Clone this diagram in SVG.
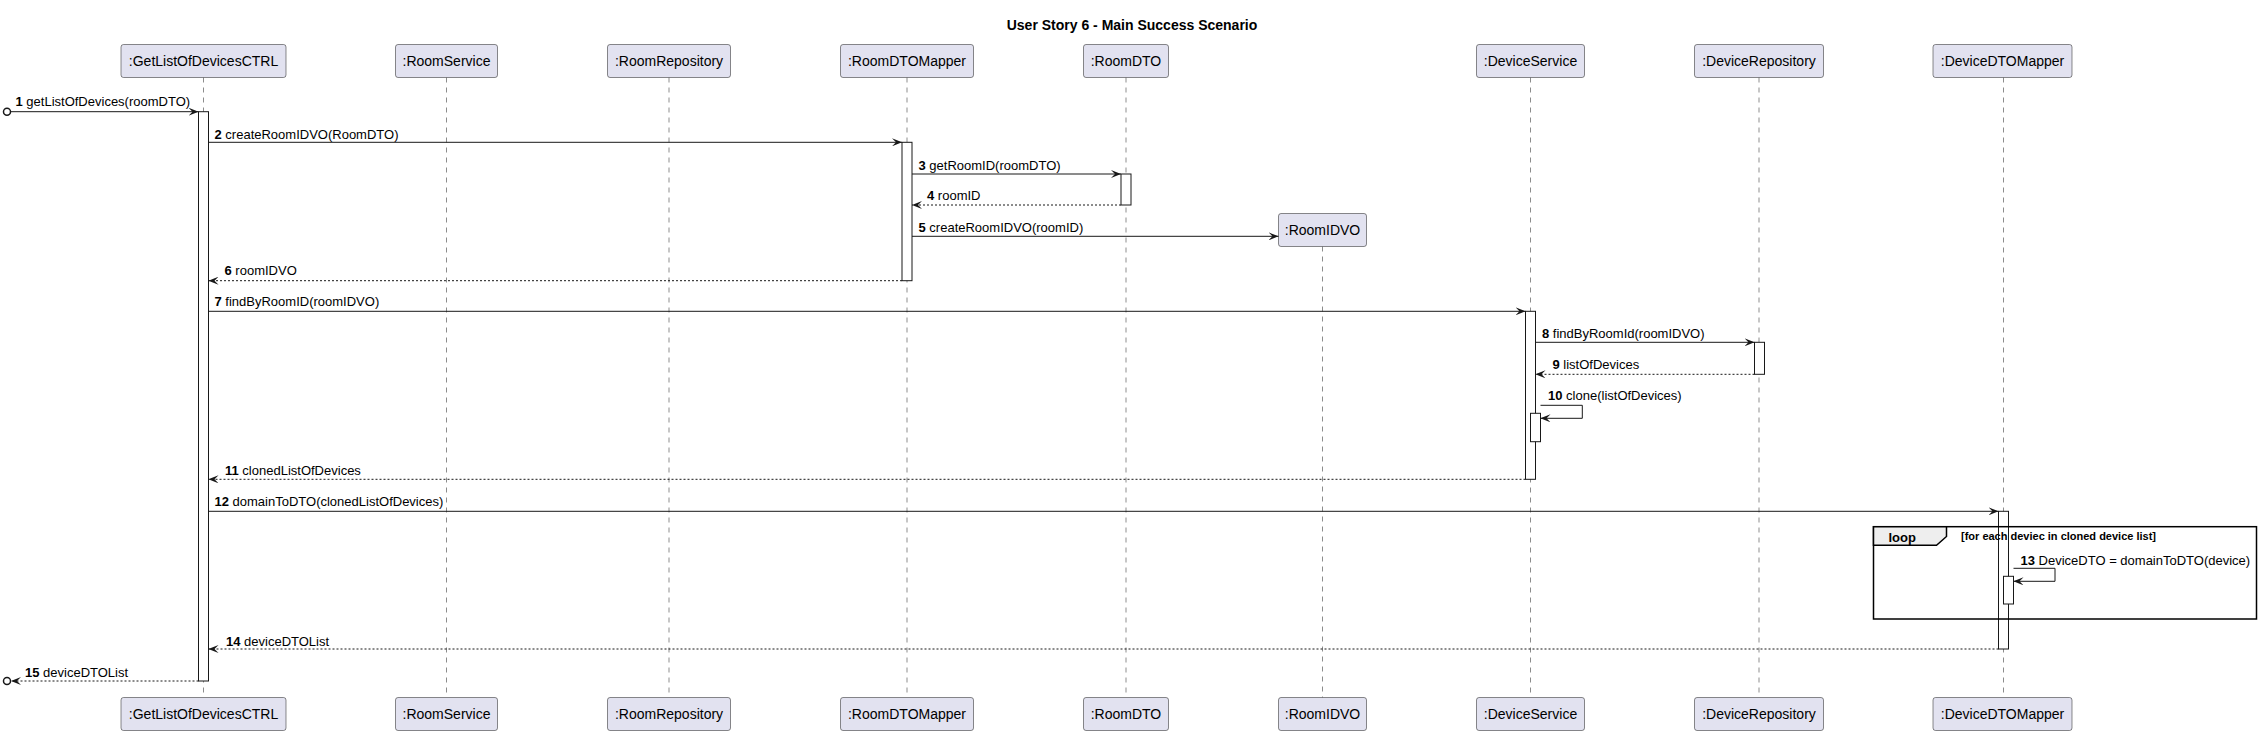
<svg xmlns="http://www.w3.org/2000/svg" width="2261" height="735" viewBox="0 0 2261 735">
<style>
  text { font-family: "Liberation Sans", Arial, sans-serif; fill: #000000; }
  .title { font-size: 14px; font-weight: bold; text-anchor: middle; }
  .pbox { fill: #E2E2F0; stroke: #181818; stroke-width: 0.5; }
  .pname { font-size: 14px; text-anchor: middle; }
  .life { stroke: #181818; stroke-width: 0.5; stroke-dasharray: 5,5; fill: none; }
  .act { fill: #FFFFFF; stroke: #181818; stroke-width: 1; }
  .msg { stroke: #181818; stroke-width: 1; fill: none; marker-end: url(#arrow); }
  .ret { stroke: #181818; stroke-width: 1; fill: none; stroke-dasharray: 2,2; marker-end: url(#arrow); }
  .lbl { font-size: 13px; }
  .num { font-weight: bold; }
  .circ { fill: none; stroke: #181818; stroke-width: 1.5; }
  .frame { fill: none; stroke: #000000; stroke-width: 1.5; }
  .tab { fill: #EEEEEE; stroke: #000000; stroke-width: 1.5; }
  .loopk { font-size: 13px; font-weight: bold; }
  .cond { font-size: 11px; font-weight: bold; }
</style>
<defs>
  <marker id="arrow" viewBox="0 0 10 8" refX="10" refY="4" markerWidth="10" markerHeight="8" markerUnits="userSpaceOnUse" orient="auto">
    <path d="M0,0 L10,4 L0,8 L4,4 Z" fill="#181818"/>
  </marker>
</defs>
<rect x="0" y="0" width="2261" height="735" fill="#FFFFFF"/>
<text class="title" x="1132" y="30">User Story 6 - Main Success Scenario</text>

<!-- lifelines -->
<g id="lifelines">
  <line class="life" x1="203.5" y1="77.5" x2="203.5" y2="697.5"/>
  <line class="life" x1="446.5" y1="77.5" x2="446.5" y2="697.5"/>
  <line class="life" x1="669" y1="77.5" x2="669" y2="697.5"/>
  <line class="life" x1="907" y1="77.5" x2="907" y2="697.5"/>
  <line class="life" x1="1126" y1="77.5" x2="1126" y2="697.5"/>
  <line class="life" x1="1322.5" y1="246.5" x2="1322.5" y2="697.5"/>
  <line class="life" x1="1530.5" y1="77.5" x2="1530.5" y2="697.5"/>
  <line class="life" x1="1759" y1="77.5" x2="1759" y2="697.5"/>
  <line class="life" x1="2003.5" y1="77.5" x2="2003.5" y2="697.5"/>
</g>

<!-- participants -->
<g id="p-ctrl">
  <rect class="pbox" x="121" y="44.5" width="165" height="33" rx="2.5"/>
  <text class="pname" x="203.5" y="66">:GetListOfDevicesCTRL</text>
  <rect class="pbox" x="121" y="697.5" width="165" height="33" rx="2.5"/>
  <text class="pname" x="203.5" y="719">:GetListOfDevicesCTRL</text>
  <rect class="act" x="198.5" y="111.7" width="10" height="569.3"/>
</g>
<g id="p-roomservice">
  <rect class="pbox" x="395.5" y="44.5" width="102" height="33" rx="2.5"/>
  <text class="pname" x="446.5" y="66">:RoomService</text>
  <rect class="pbox" x="395.5" y="697.5" width="102" height="33" rx="2.5"/>
  <text class="pname" x="446.5" y="719">:RoomService</text>
</g>
<g id="p-roomrepository">
  <rect class="pbox" x="607.5" y="44.5" width="123" height="33" rx="2.5"/>
  <text class="pname" x="669" y="66">:RoomRepository</text>
  <rect class="pbox" x="607.5" y="697.5" width="123" height="33" rx="2.5"/>
  <text class="pname" x="669" y="719">:RoomRepository</text>
</g>
<g id="p-roomdtomapper">
  <rect class="pbox" x="840.5" y="44.5" width="133" height="33" rx="2.5"/>
  <text class="pname" x="907" y="66">:RoomDTOMapper</text>
  <rect class="pbox" x="840.5" y="697.5" width="133" height="33" rx="2.5"/>
  <text class="pname" x="907" y="719">:RoomDTOMapper</text>
  <rect class="act" x="902" y="142.3" width="10" height="138.4"/>
</g>
<g id="p-roomdto">
  <rect class="pbox" x="1083.5" y="44.5" width="85" height="33" rx="2.5"/>
  <text class="pname" x="1126" y="66">:RoomDTO</text>
  <rect class="pbox" x="1083.5" y="697.5" width="85" height="33" rx="2.5"/>
  <text class="pname" x="1126" y="719">:RoomDTO</text>
  <rect class="act" x="1121" y="174" width="10" height="31"/>
</g>
<g id="p-roomidvo">
  <rect class="pbox" x="1278.5" y="213.5" width="88" height="33" rx="2.5"/>
  <text class="pname" x="1322.5" y="235">:RoomIDVO</text>
  <rect class="pbox" x="1278.5" y="697.5" width="88" height="33" rx="2.5"/>
  <text class="pname" x="1322.5" y="719">:RoomIDVO</text>
</g>
<g id="p-deviceservice">
  <rect class="pbox" x="1476.5" y="44.5" width="108" height="33" rx="2.5"/>
  <text class="pname" x="1530.5" y="66">:DeviceService</text>
  <rect class="pbox" x="1476.5" y="697.5" width="108" height="33" rx="2.5"/>
  <text class="pname" x="1530.5" y="719">:DeviceService</text>
  <rect class="act" x="1525.5" y="311.3" width="10" height="168"/>
  <rect class="act" x="1530.5" y="413.3" width="10" height="28.4"/>
</g>
<g id="p-devicerepository">
  <rect class="pbox" x="1694.5" y="44.5" width="129" height="33" rx="2.5"/>
  <text class="pname" x="1759" y="66">:DeviceRepository</text>
  <rect class="pbox" x="1694.5" y="697.5" width="129" height="33" rx="2.5"/>
  <text class="pname" x="1759" y="719">:DeviceRepository</text>
  <rect class="act" x="1754.5" y="342.3" width="10" height="32"/>
</g>
<g id="p-devicedtomapper">
  <rect class="pbox" x="1933" y="44.5" width="139" height="33" rx="2.5"/>
  <text class="pname" x="2002.5" y="66">:DeviceDTOMapper</text>
  <rect class="pbox" x="1933" y="697.5" width="139" height="33" rx="2.5"/>
  <text class="pname" x="2002.5" y="719">:DeviceDTOMapper</text>
  <rect class="act" x="1998.5" y="511.3" width="10" height="137.7"/>
  <rect class="act" x="2003.5" y="576.3" width="10" height="27.7"/>
</g>

<!-- loop fragment -->
<g id="loop">
  <rect class="frame" x="1873.5" y="526.7" width="383" height="92.3"/>
  <polygon class="tab" points="1873.5,526.7 1946.5,526.7 1946.5,536.5 1936.5,545.3 1873.5,545.3"/>
  <text class="loopk" x="1888.5" y="542">loop</text>
  <text class="cond" x="1961" y="540">[for each deviec in cloned device list]</text>
</g>

<!-- connectors -->
<g id="connectors">
  <circle class="circ" cx="7" cy="111.7" r="3.5"/>
  <line class="msg" x1="10.5" y1="111.7" x2="198.5" y2="111.7"/>
  <line class="msg" x1="208.5" y1="142.3" x2="902" y2="142.3"/>
  <line class="msg" x1="912" y1="174" x2="1121" y2="174"/>
  <line class="ret" x1="1121" y1="205" x2="912" y2="205"/>
  <line class="msg" x1="912" y1="236.3" x2="1278.5" y2="236.3"/>
  <line class="ret" x1="902" y1="280.7" x2="208.5" y2="280.7"/>
  <line class="msg" x1="208.5" y1="311.3" x2="1525.5" y2="311.3"/>
  <line class="msg" x1="1535.5" y1="342.3" x2="1754.5" y2="342.3"/>
  <line class="ret" x1="1754.5" y1="374.3" x2="1535.5" y2="374.3"/>
  <polyline class="msg" points="1540.5,405.3 1582.3,405.3 1582.3,418.3 1540.5,418.3"/>
  <line class="ret" x1="1525.5" y1="479.3" x2="208.5" y2="479.3"/>
  <line class="msg" x1="208.5" y1="511.3" x2="1998.5" y2="511.3"/>
  <polyline class="msg" points="2013.5,568.3 2055,568.3 2055,581.3 2013.5,581.3"/>
  <line class="ret" x1="1998.5" y1="649" x2="208.5" y2="649"/>
  <line class="ret" x1="198.5" y1="681" x2="11" y2="681"/>
  <circle class="circ" cx="7" cy="681" r="3.5"/>

  <text class="lbl" x="15.5" y="106"><tspan class="num">1</tspan> getListOfDevices(roomDTO)</text>
  <text class="lbl" x="214.5" y="138.5"><tspan class="num">2</tspan> createRoomIDVO(RoomDTO)</text>
  <text class="lbl" x="918.5" y="170"><tspan class="num">3</tspan> getRoomID(roomDTO)</text>
  <text class="lbl" x="927" y="199.5"><tspan class="num">4</tspan> roomID</text>
  <text class="lbl" x="918.5" y="231.5"><tspan class="num">5</tspan> createRoomIDVO(roomID)</text>
  <text class="lbl" x="224.5" y="275"><tspan class="num">6</tspan> roomIDVO</text>
  <text class="lbl" x="214.5" y="306"><tspan class="num">7</tspan> findByRoomID(roomIDVO)</text>
  <text class="lbl" x="1542" y="338"><tspan class="num">8</tspan> findByRoomId(roomIDVO)</text>
  <text class="lbl" x="1552.5" y="369"><tspan class="num">9</tspan> listOfDevices</text>
  <text class="lbl" x="1548" y="400"><tspan class="num">10</tspan> clone(listOfDevices)</text>
  <text class="lbl" x="225" y="475"><tspan class="num">11</tspan> clonedListOfDevices</text>
  <text class="lbl" x="214.5" y="506"><tspan class="num">12</tspan> domainToDTO(clonedListOfDevices)</text>
  <text class="lbl" x="2020.5" y="565"><tspan class="num">13</tspan> DeviceDTO = domainToDTO(device)</text>
  <text class="lbl" x="226" y="645.5"><tspan class="num">14</tspan> deviceDTOList</text>
  <text class="lbl" x="25" y="677"><tspan class="num">15</tspan> deviceDTOList</text>
</g>
</svg>
